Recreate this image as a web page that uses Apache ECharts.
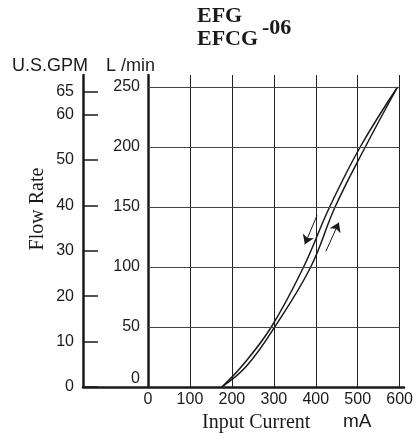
<!DOCTYPE html>
<html><head><meta charset="utf-8">
<script src="https://cdn.jsdelivr.net/npm/echarts@6/dist/echarts.min.js"></script>
<style>html,body{margin:0;padding:0;background:#fff}#c{width:416px;height:438px}</style>
</head><body><div id="c"></div>
<script>
// ---- data ----
const currentTicks = [0, 100, 200, 300, 400, 500, 600];      // mA
const flowTicks = [0, 50, 100, 150, 200, 250];                // L/min
const gpmTicks = [0, 10, 20, 30, 40, 50, 60, 65];             // U.S.GPM
const flowAxisMax = 260;
const litersPerGallon = 3.78541;

const decreasingCurrent = [176, 223, 294, 371, 433, 506, 595];
const decreasingFlow    = [0, 17, 50, 100, 150, 200, 250];
const increasingCurrent = [176, 234, 302, 388, 446, 518, 595];
const increasingFlow    = [0, 17, 50, 100, 150, 200, 250];

const downArrow = [[403, 143], [374, 119]];
const upArrow   = [[424, 113], [455, 137]];

// ---- chart ----
const zip = (xs, ys) => xs.map((x, i) => [x, ys[i]]);
const sans = 'Liberation Sans, Arial, sans-serif';
const serif = 'Liberation Serif, Times New Roman, serif';
const ink = '#1a1a1a';

const chart = echarts.init(document.getElementById('c'), null, {renderer: 'canvas'});
chart.setOption({
  animation: false,
  backgroundColor: '#fff',
  grid: [
    {left: 83, right: 12, top: 75, bottom: 51},
    {left: 148, right: 12, top: 75, bottom: 51}
  ],
  xAxis: [
    {gridIndex: 0, type: 'value', min: 0, max: 1,
     axisLine: {show: true, onZero: false, lineStyle: {color: ink, width: 2.5}},
     axisTick: {show: false}, axisLabel: {show: false}, splitLine: {show: false}},
    {gridIndex: 1, type: 'value', min: currentTicks[0], max: currentTicks[currentTicks.length - 1], interval: 100,
     axisLine: {show: false}, axisTick: {show: false},
     axisLabel: {margin: 5, fontSize: 16, fontFamily: sans, color: ink, hideOverlap: false},
     splitLine: {show: true, lineStyle: {color: '#222', width: 1}}}
  ],
  yAxis: [
    {gridIndex: 0, type: 'value', min: 0, max: flowAxisMax / litersPerGallon,
     axisLine: {show: true, onZero: false, lineStyle: {color: ink, width: 2.5}},
     axisTick: {show: true, inside: true, length: 15, customValues: gpmTicks, lineStyle: {color: ink, width: 1.5}},
     axisLabel: {customValues: gpmTicks, margin: 9, fontSize: 16, fontFamily: sans, color: ink, hideOverlap: false},
     splitLine: {show: false}},
    {gridIndex: 1, type: 'value', min: 0, max: flowAxisMax,
     axisLine: {show: true, onZero: false, lineStyle: {color: ink, width: 2.5}},
     axisTick: {show: false},
     axisLabel: {customValues: flowTicks, margin: 8, fontSize: 16, fontFamily: sans, color: ink, hideOverlap: false,
       formatter: v => v === 0 ? '{lift|0}' : String(v),
       rich: {lift: {fontSize: 16, fontFamily: sans, color: ink, padding: [0, 0, 16, 0]}}},
     splitLine: {show: false}}
  ],
  series: [
    {type: 'line', xAxisIndex: 1, yAxisIndex: 1, data: [], z: 1, silent: true,
     markLine: {silent: true, symbol: ['none', 'none'], label: {show: false},
       lineStyle: {color: '#444', width: 1, type: 'solid'},
       data: flowTicks.filter(v => v > 0).map(v => ({yAxis: v}))}},
    {type: 'line', name: 'decreasing', xAxisIndex: 1, yAxisIndex: 1, z: 3,
     data: zip(decreasingCurrent, decreasingFlow), smooth: 0.4, showSymbol: false, symbol: 'none',
     lineStyle: {color: ink, width: 1.5},
     markLine: {silent: true, symbol: ['none', 'arrow'], symbolSize: 9, label: {show: false},
       lineStyle: {color: ink, width: 1, type: 'solid'},
       data: [[{coord: downArrow[0]}, {coord: downArrow[1]}]]}},
    {type: 'line', name: 'increasing', xAxisIndex: 1, yAxisIndex: 1, z: 3,
     data: zip(increasingCurrent, increasingFlow), smooth: 0.4, showSymbol: false, symbol: 'none',
     lineStyle: {color: ink, width: 1.5},
     markLine: {silent: true, symbol: ['none', 'arrow'], symbolSize: 9, label: {show: false},
       lineStyle: {color: ink, width: 1, type: 'solid'},
       data: [[{coord: upArrow[0]}, {coord: upArrow[1]}]]}}
  ],
  graphic: [
    {type: 'text', x: 197, y: 16, style: {text: 'EFG', font: 'bold 22px ' + serif, fill: ink, align: 'left', verticalAlign: 'middle', textAlign: 'left', textVerticalAlign: 'middle'}},
    {type: 'text', x: 197, y: 39, style: {text: 'EFCG', font: 'bold 22px ' + serif, fill: ink, align: 'left', verticalAlign: 'middle', textAlign: 'left', textVerticalAlign: 'middle'}},
    {type: 'text', x: 262, y: 28, style: {text: '-06', font: 'bold 22px ' + serif, fill: ink, align: 'left', verticalAlign: 'middle', textAlign: 'left', textVerticalAlign: 'middle'}},
    {type: 'text', x: 12, y: 66, style: {text: 'U.S.GPM', font: '18px ' + sans, fill: ink, align: 'left', verticalAlign: 'middle', textAlign: 'left', textVerticalAlign: 'middle'}},
    {type: 'text', x: 106, y: 66, style: {text: 'L /min', font: '18px ' + sans, fill: ink, align: 'left', verticalAlign: 'middle', textAlign: 'left', textVerticalAlign: 'middle'}},
    {type: 'text', x: 38, y: 209, rotation: Math.PI / 2, style: {text: 'Flow Rate', font: '20px ' + serif, fill: ink, align: 'center', verticalAlign: 'middle', textAlign: 'center', textVerticalAlign: 'middle'}},
    {type: 'text', x: 202, y: 423, style: {text: 'Input Current', font: '20px ' + serif, fill: ink, align: 'left', verticalAlign: 'middle', textAlign: 'left', textVerticalAlign: 'middle'}},
    {type: 'text', x: 343, y: 422, style: {text: 'mA', font: '19px ' + sans, fill: ink, align: 'left', verticalAlign: 'middle', textAlign: 'left', textVerticalAlign: 'middle'}}
  ]
});
</script>
</body></html>
